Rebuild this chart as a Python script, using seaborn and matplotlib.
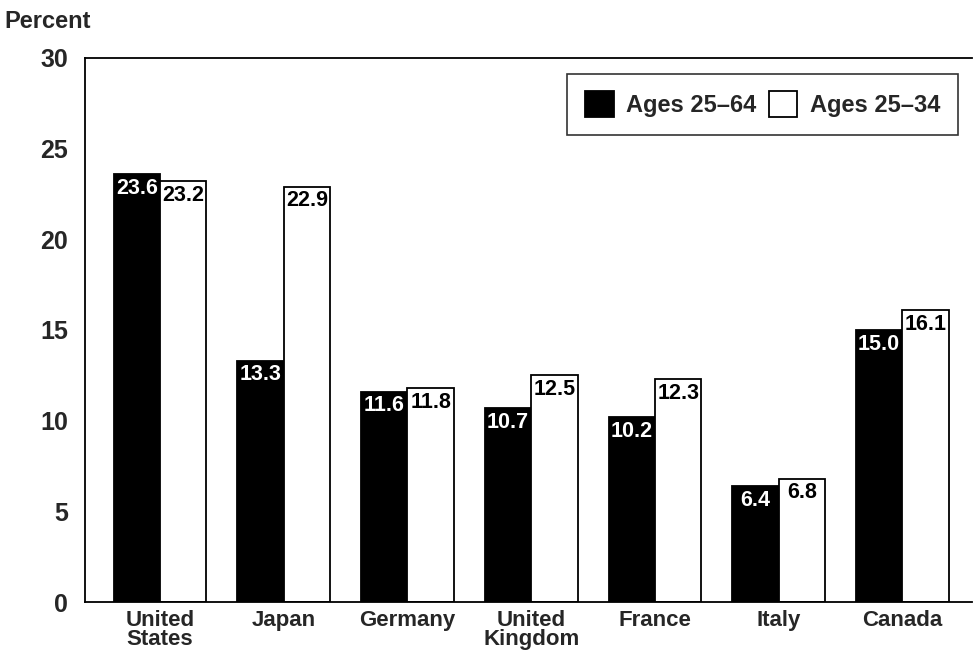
import pandas as pd
import matplotlib
matplotlib.use('Agg')
import matplotlib.pyplot as plt
import seaborn as sns

countries = ['United\nStates', 'Japan', 'Germany', 'United\nKingdom', 'France', 'Italy', 'Canada']
ages_25_64 = [23.6, 13.3, 11.6, 10.7, 10.2, 6.4, 15.0]
ages_25_34 = [23.2, 22.9, 11.8, 12.5, 12.3, 6.8, 16.1]
series = ['Ages 25\u201364', 'Ages 25\u201334']
y_ticks = [0, 5, 10, 15, 20, 25, 30]

df = pd.DataFrame({
    'Country': countries * 2,
    'Percent': ages_25_64 + ages_25_34,
    'Group': [series[0]] * len(countries) + [series[1]] * len(countries),
})

sns.set_theme(style='white')
plt.rcParams['font.family'] = ['Liberation Sans', 'DejaVu Sans']
plt.rcParams['font.weight'] = 'bold'

fig = plt.figure(figsize=(9.73, 6.58), dpi=100)
ax = fig.add_axes([0.0874, 0.085, 0.912, 0.827])

sns.barplot(data=df, x='Country', y='Percent', hue='Group', order=countries,
            hue_order=series, palette=['black', 'white'], width=0.75, gap=0,
            edgecolor='black', linewidth=1.3, saturation=1, ax=ax)

# value labels inside bar tops
for cont, color in zip(ax.containers, ['white', 'black']):
    for bar in cont:
        h = bar.get_height()
        ax.text(bar.get_x() + bar.get_width() / 2, h - 0.2, f'{h:.1f}',
                ha='center', va='top', color=color, fontsize=15.5,
                fontweight='bold')

ax.set_xlim(-0.606, 6.566)
ax.set_ylim(0, 30)
ax.set_yticks(y_ticks)
ax.set_yticklabels([str(t) for t in y_ticks], fontsize=18, fontweight='bold')
ax.set_xticks(range(len(countries)))
ax.set_xticklabels(countries, fontsize=16, fontweight='bold', linespacing=0.85)
ax.tick_params(axis='y', length=0, pad=12)
ax.tick_params(axis='x', length=0, pad=6)
ax.set_xlabel('')
ax.set_ylabel('')

for side in ['left', 'top', 'bottom']:
    ax.spines[side].set_color('black')
    ax.spines[side].set_linewidth(1.3)
ax.spines['right'].set_visible(False)

fig.text(0.005, 0.958, 'Percent', fontsize=17, fontweight='bold', ha='left')

leg = ax.legend(loc='upper right', ncol=2, fontsize=17, frameon=True,
                fancybox=False, edgecolor='black', borderpad=0.75,
                handlelength=1.2, handleheight=1.3, handletextpad=0.55,
                columnspacing=0.5, bbox_to_anchor=(0.997, 0.993))
leg.get_frame().set_linewidth(1.2)
for t in leg.get_texts():
    t.set_fontweight('bold')

fig.savefig('out.png', dpi=100)
